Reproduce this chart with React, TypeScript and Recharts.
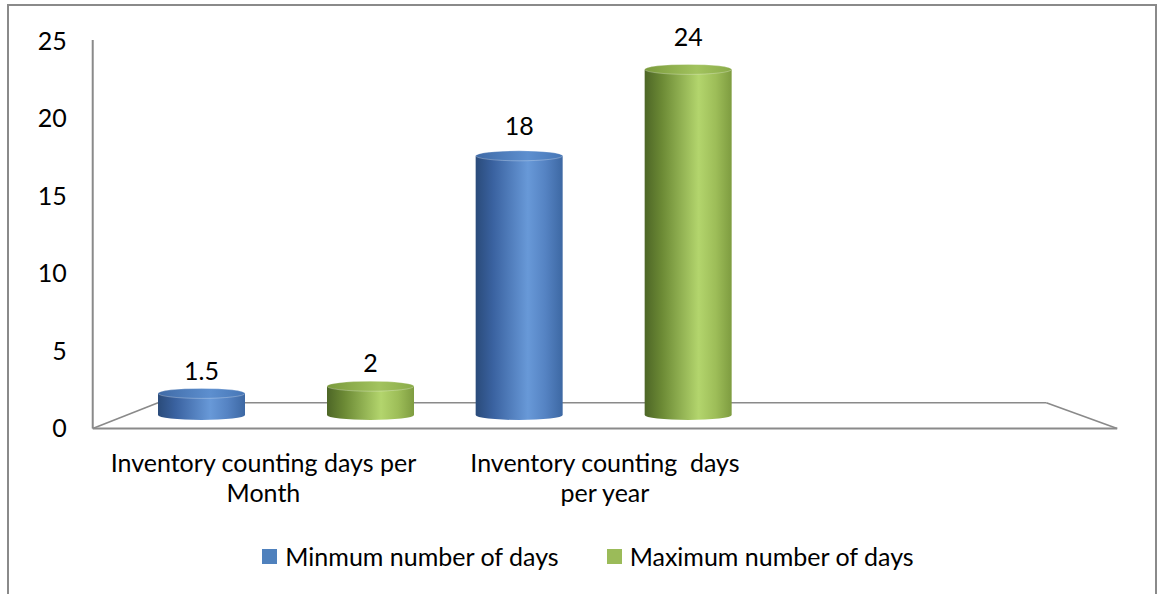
import React from 'react';
import { BarChart, Bar, XAxis, YAxis, LabelList, ReferenceArea, Legend } from 'recharts';

// ---------- data ----------
const categories = ['Inventory counting days per Month', 'Inventory counting  days per year', ''];
const categoryLines: string[][] = [
  ['Inventory counting days per', 'Month'],
  ['Inventory counting  days', 'per year'],
  [],
];
const minimumDays: (number | null)[] = [1.5, 18, null];
const maximumDays: (number | null)[] = [2, 24, null];
const yTicks = [0, 5, 10, 15, 20, 25];
const seriesNames = ['Minmum number of days', 'Maximum number of days'];
const seriesColors = ['#4f81bd', '#9bbb59'];

const data = categories.map((name, i) => ({ name, min: minimumDays[i], max: maximumDays[i] }));

// ---------- layout ----------
const W = 1161;
const H = 594;
const Y_AXIS_W = 40;
const X_AXIS_H = 30;
const MARGIN = { top: 55, right: 81, bottom: 179 - X_AXIS_H, left: 127 - Y_AXIS_W };
const PLOT_LEFT = MARGIN.left + Y_AXIS_W;
const PLOT_BOTTOM = H - MARGIN.bottom - X_AXIS_H;
const VP = { x: 584, y: 235 };
const K_FRONT = 1.075;
const K_BACK = 0.932;
const FONT = 'Lato, "Open Sans", sans-serif';
const FS = 25;
const GRAY = '#8a8a8a';

const proj = (x: number, y: number, k: number) => ({ x: VP.x + (x - VP.x) * k, y: VP.y + (y - VP.y) * k });

const PALETTES: Record<string, { body: [string, string][]; top: [string, string][] }> = {
  min: {
    body: [['0', '#2a4b7a'], ['0.2', '#3a62a0'], ['0.6', '#6899d8'], ['0.8', '#5583c3'], ['1', '#3d68a3']],
    top: [['0', '#3f6aa6'], ['0.6', '#5d8fcf'], ['1', '#4676b6']],
  },
  max: {
    body: [['0', '#4d6626'], ['0.2', '#6c8a35'], ['0.62', '#b3d56d'], ['0.82', '#9dbd58'], ['1', '#7e9c40']],
    top: [['0', '#7a9a3c'], ['0.6', '#a2c35e'], ['1', '#8aab49']],
  },
};

const makeCylinder = (key: 'min' | 'max') => (props: any) => {
  const { x, y, width, height, index } = props;
  if (x == null || y == null || !isFinite(height) || !isFinite(width) || height <= 0 || width <= 0) return null;
  const rx = width / 2;
  const ry = 5;
  const bottom = y + height;
  const id = `cyl-${key}-${index}`;
  const pal = PALETTES[key];
  return (
    <g>
      <defs>
        <linearGradient id={`${id}-b`} x1="0" y1="0" x2="1" y2="0">
          {pal.body.map(([o, c]) => <stop key={o} offset={o} stopColor={c} />)}
        </linearGradient>
        <linearGradient id={`${id}-t`} x1="0" y1="0" x2="1" y2="0">
          {pal.top.map(([o, c]) => <stop key={o} offset={o} stopColor={c} />)}
        </linearGradient>
      </defs>
      <path
        d={`M${x},${y} L${x},${bottom} A${rx},${ry} 0 0 0 ${x + width},${bottom} L${x + width},${y} Z`}
        fill={`url(#${id}-b)`}
      />
      <ellipse cx={x + rx} cy={y} rx={rx} ry={ry} fill={`url(#${id}-t)`} stroke="#ffffff" strokeOpacity={0.35} strokeWidth={0.8} />
    </g>
  );
};

const ValueLabel = (props: any) => {
  const vb = props.viewBox && props.viewBox.width != null ? props.viewBox : props;
  const { x, y, width, height } = vb;
  const value = props.value;
  if (value == null || x == null) return null;
  return (
    <text
      x={x + width / 2}
      y={y - 23 - 0.03 * height}
      textAnchor="middle"
      dominantBaseline="central"
      fontFamily={FONT}
      fontSize={FS}
      fill="#000"
    >
      {value}
    </text>
  );
};

const Floor = (props: any) => {
  const { x, y, width, height } = props;
  if (x == null) return null;
  const zeroY = y + height;
  const fl = proj(x, zeroY, K_FRONT);
  const fr = proj(x + width, zeroY, K_FRONT);
  const bl = proj(x, zeroY, K_BACK);
  const br = proj(x + width, zeroY, K_BACK);
  const topF = proj(x, y, K_FRONT);
  return (
    <g>
      <line x1={bl.x} y1={bl.y} x2={br.x} y2={br.y} stroke={GRAY} strokeWidth={1.6} />
      <line x1={fl.x} y1={fl.y} x2={bl.x} y2={bl.y} stroke={GRAY} strokeWidth={1.6} />
      <line x1={fr.x} y1={fr.y} x2={br.x} y2={br.y} stroke={GRAY} strokeWidth={1.6} />
      <line x1={fl.x} y1={fl.y} x2={fr.x} y2={fr.y} stroke={GRAY} strokeWidth={2} />
      <line x1={topF.x} y1={topF.y - 1.5} x2={fl.x} y2={fl.y} stroke={GRAY} strokeWidth={2} />
    </g>
  );
};

const YTick = (props: any) => {
  const { y, payload } = props;
  const p = proj(PLOT_LEFT, y, K_FRONT);
  return (
    <text x={p.x - 26} y={p.y - 1.5} textAnchor="end" dominantBaseline="central" fontFamily={FONT} fontSize={FS} fill="#000">
      {payload.value}
    </text>
  );
};

const XTick = (props: any) => {
  const { x, payload } = props;
  const idx = categories.indexOf(payload.value);
  const lines = idx >= 0 ? categoryLines[idx] : [];
  if (!lines.length) return null;
  const p = proj(x, PLOT_BOTTOM, K_FRONT);
  return (
    <g>
      {lines.map((t, i) => (
        <text
          key={i}
          x={p.x}
          y={p.y + 33 + i * 30}
          textAnchor="middle"
          dominantBaseline="central"
          fontFamily={FONT}
          fontSize={FS}
          fill="#000"
          style={{ whiteSpace: 'pre' }}
        >
          {t}
        </text>
      ))}
    </g>
  );
};

const LegendContent = () => (
  <div style={{ display: 'flex', justifyContent: 'center', alignItems: 'center', fontFamily: FONT, fontSize: FS, color: '#000', paddingLeft: 15 }}>
    {seriesNames.map((n, i) => (
      <div key={n} style={{ display: 'flex', alignItems: 'center', marginRight: i === 0 ? 48 : 0 }}>
        <span style={{ display: 'inline-block', width: 15, height: 15, background: seriesColors[i], marginRight: 8 }} />
        <span>{n}</span>
      </div>
    ))}
  </div>
);

export default function App() {
  return (
    <div style={{ position: 'absolute', left: 0, top: 0, width: W, height: H, overflow: 'hidden', background: '#fff' }}>
      <div
        style={{
          position: 'absolute',
          left: 7,
          top: 4,
          width: 1150,
          height: 640,
          border: '2px solid #8a8a8a',
          boxSizing: 'border-box',
        }}
      />
      <div style={{ position: 'absolute', left: 0, top: 0 }}>
        <BarChart width={W} height={H} data={data} margin={MARGIN} barSize={87} barGap={82}>
          <XAxis dataKey="name" height={X_AXIS_H} axisLine={false} tickLine={false} interval={0} tick={<XTick />} />
          <YAxis width={Y_AXIS_W} domain={[0, 25]} ticks={yTicks} axisLine={false} tickLine={false} interval={0} tick={<YTick />} />
          <ReferenceArea y1={0} y2={25} shape={<Floor />} ifOverflow="visible" />
          <Bar dataKey="min" name={seriesNames[0]} fill={seriesColors[0]} isAnimationActive={false} shape={makeCylinder('min')}>
            <LabelList dataKey="min" content={<ValueLabel />} />
          </Bar>
          <Bar dataKey="max" name={seriesNames[1]} fill={seriesColors[1]} isAnimationActive={false} shape={makeCylinder('max')}>
            <LabelList dataKey="max" content={<ValueLabel />} />
          </Bar>
          <Legend
            layout="horizontal"
            verticalAlign="middle"
            align="center"
            content={<LegendContent />}
            wrapperStyle={{ position: 'absolute', left: 0, top: 541, width: W }}
          />
        </BarChart>
      </div>
    </div>
  );
}
